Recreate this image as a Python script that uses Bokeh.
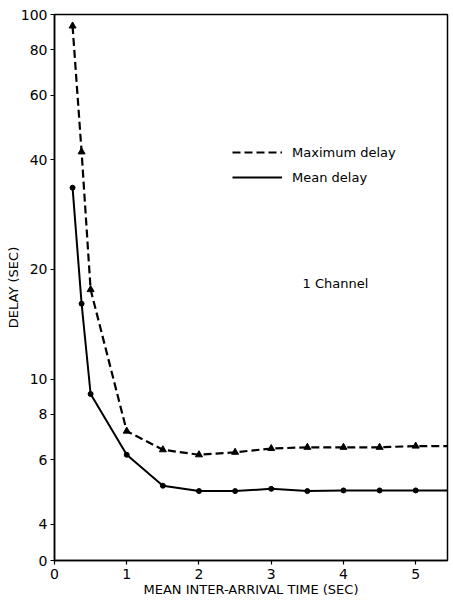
from bokeh.plotting import figure
from bokeh.models import Range1d, FixedTicker, Legend, LegendItem, Label, ColumnDataSource
from bokeh.embed import file_html
from bokeh.resources import INLINE

# ---- data ----
x_points = [0.25, 0.375, 0.5, 1.0, 1.5, 2.0, 2.5, 3.0, 3.5, 4.0, 4.5, 5.0]
max_delay = [93.0, 42.0, 17.6, 7.2, 6.4, 6.2, 6.3, 6.45, 6.5, 6.5, 6.5, 6.55]
mean_delay = [33.5, 16.1, 9.1, 6.2, 5.1, 4.93, 4.93, 5.0, 4.93, 4.95, 4.95, 4.95]
line_end_x = 5.45          # curves run on to the right frame edge
max_delay_end = 6.55
mean_delay_end = 4.95

x_tick_values = [0, 1, 2, 3, 4, 5]
y_tick_values = [3.18, 4, 6, 8, 10, 20, 40, 60, 80, 100]
y_tick_labels = ["0", "4", "6", "8", "10", "20", "40", "60", "80", "100"]

FONT = "DejaVu Sans"

p = figure(width=453, height=609, output_backend="svg", toolbar_location=None,
           y_axis_type="log",
           x_range=Range1d(0, 5.44), y_range=Range1d(3.18, 100),
           min_border_left=54, min_border_right=6, min_border_top=14, min_border_bottom=49)
p.background_fill_color = "white"
p.border_fill_color = "white"
p.outline_line_color = "black"
p.outline_line_width = 1.5
p.xgrid.visible = False
p.ygrid.visible = False

src_max = ColumnDataSource(dict(x=x_points, y=max_delay))
src_mean = ColumnDataSource(dict(x=x_points, y=mean_delay))

r_max = p.line(x_points + [line_end_x], max_delay + [max_delay_end],
               line_color="black", line_width=2.2, line_dash="8 4")
p.scatter("x", "y", source=src_max, marker="triangle", size=7,
          fill_color="black", line_color="black")
r_mean = p.line(x_points + [line_end_x], mean_delay + [mean_delay_end],
                line_color="black", line_width=2)
p.scatter("x", "y", source=src_mean, marker="circle", size=5,
          fill_color="black", line_color="black")

# axes
for ax in (p.xaxis[0], p.yaxis[0]):
    ax.axis_line_color = "black"
    ax.axis_line_width = 1.5
    ax.major_tick_line_color = "black"
    ax.major_tick_line_width = 1.2
    ax.major_tick_in = 0
    ax.major_tick_out = 4
    ax.minor_tick_line_color = None
    ax.major_label_text_font = FONT
    ax.major_label_text_font_size = "14px"
    ax.major_label_text_color = "black"
    ax.axis_label_text_font = FONT
    ax.axis_label_text_font_style = "normal"
    ax.axis_label_text_color = "black"
    ax.axis_label_text_font_size = "13px"

p.xaxis.ticker = FixedTicker(ticks=x_tick_values)
p.xaxis.major_label_standoff = 4
p.xaxis.axis_label = "MEAN INTER-ARRIVAL TIME (SEC)"
p.xaxis.axis_label_standoff = 0

p.yaxis.ticker = FixedTicker(ticks=y_tick_values)
p.yaxis.major_label_overrides = dict(zip(y_tick_values, y_tick_labels))
p.yaxis.major_label_standoff = 3
p.yaxis.axis_label = "DELAY (SEC)"
p.yaxis.axis_label_standoff = -3

legend = Legend(items=[LegendItem(label="Maximum delay", renderers=[r_max]),
                       LegendItem(label="Mean delay", renderers=[r_mean])],
                location=(178, 373), orientation="vertical",
                glyph_width=50, glyph_height=20, label_height=20, spacing=5,
                label_standoff=10, padding=0, margin=0,
                border_line_color=None, background_fill_alpha=0,
                label_text_font=FONT, label_text_font_size="13px",
                label_text_color="black")
p.add_layout(legend, "center")

p.add_layout(Label(x=248, y=270, x_units="screen", y_units="screen",
                   text="1 Channel", text_font=FONT, text_font_size="13px",
                   text_color="black"))

open("out.html", "w").write(file_html(p, INLINE))
